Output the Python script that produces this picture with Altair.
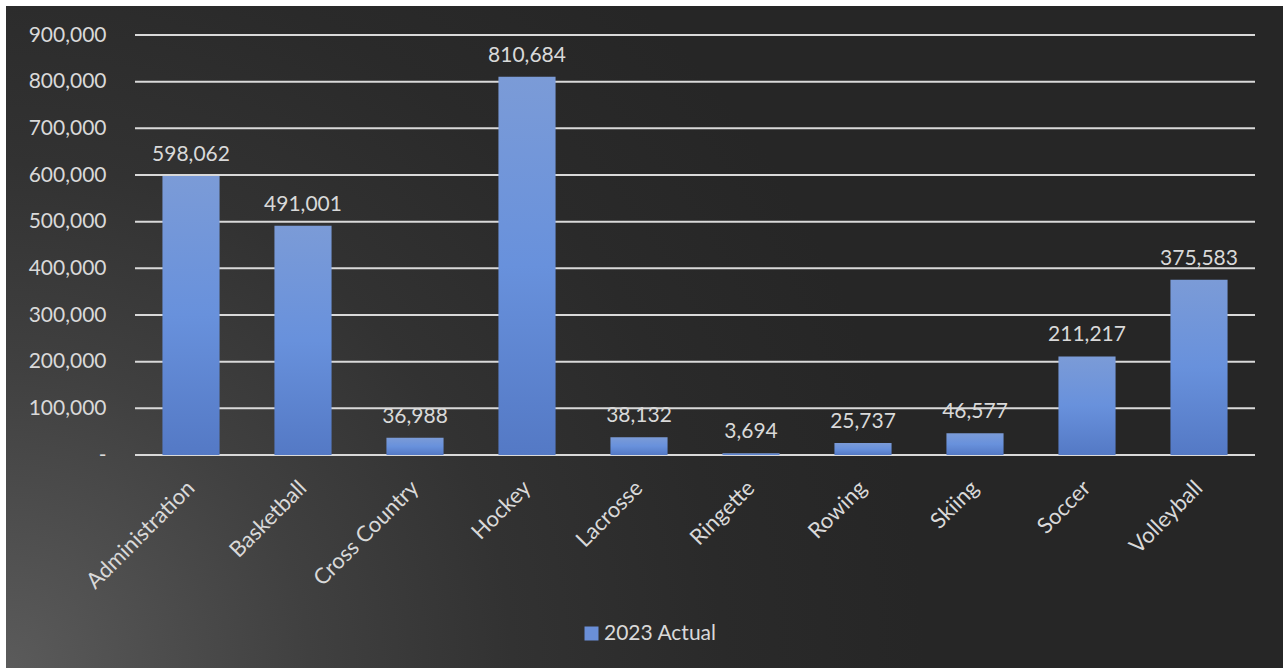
import altair as alt
import pandas as pd

categories = ["Administration", "Basketball", "Cross Country", "Hockey", "Lacrosse",
              "Ringette", "Rowing", "Skiing", "Soccer", "Volleyball"]
values = [598062, 491001, 36988, 810684, 38132, 3694, 25737, 46577, 211217, 375583]
series_name = "2023 Actual"
y_ticks = [0, 100000, 200000, 300000, 400000, 500000, 600000, 700000, 800000, 900000]

W, H = 1120, 420
PAD = {"left": 135, "top": 35, "right": 28, "bottom": 213}
FONT = "Lato"
TXT = "#d9d9d9"

df = pd.DataFrame({"category": categories, "value": values, "series": series_name})
grid_df = pd.DataFrame({"v": y_ticks})
bg_df = pd.DataFrame({"a": [0]})

bg_grad = {
    "gradient": "radial",
    "x1": 0, "y1": 0.76, "r1": 0,
    "x2": 0, "y2": 0.76, "r2": 0.72,
    "stops": [
        {"offset": 0, "color": "#5b5b5b"},
        {"offset": 0.33, "color": "#404040"},
        {"offset": 0.55, "color": "#323232"},
        {"offset": 0.78, "color": "#2a2a2a"},
        {"offset": 1, "color": "#262626"},
    ],
}
bar_grad = {
    "gradient": "linear",
    "x1": 0, "y1": 0, "x2": 0, "y2": 1,
    "stops": [
        {"offset": 0, "color": "#7b9bd7"},
        {"offset": 0.5, "color": "#6891dc"},
        {"offset": 1, "color": "#5479c5"},
    ],
}

yscale = alt.Scale(domain=[0, 900000], nice=False, zero=True)
xscale = alt.Scale(paddingInner=0.49, paddingOuter=0.245)

y_label_expr = "datum.value == 0 ? '-\u2003' : format(datum.value, ',')"
y_axis = alt.Axis(values=y_ticks, labelExpr=y_label_expr, ticks=False,
                  domain=False, grid=False, labelPadding=29, zindex=2,
                  labelFont=FONT, labelFontSize=21, labelColor=TXT)

bg = alt.Chart(bg_df).mark_rect(fill=bg_grad, stroke=None).encode(
    x=alt.value(-129), x2=alt.value(W + PAD["right"]),
    y=alt.value(-29), y2=alt.value(H + PAD["bottom"]),
)

grid = alt.Chart(grid_df).mark_rule(color=TXT, strokeWidth=2).encode(
    y=alt.Y("v:Q", scale=yscale, axis=y_axis, title=None),
)

bars = alt.Chart(df).mark_bar(fill=bar_grad).encode(
    x=alt.X("category:N", sort=categories, scale=xscale, title=None,
            axis=alt.Axis(labelAngle=-45, labelAlign="right", labelBaseline="middle",
                          labelPadding=29, ticks=False, domain=False, grid=False,
                          zindex=2,
                          labelFont=FONT, labelFontSize=22, labelColor=TXT)),
    y=alt.Y("value:Q", scale=yscale, title=None, axis=y_axis),
    color=alt.Color("series:N", scale=alt.Scale(range=["#6a8fd8"]), title=None,
                    legend=alt.Legend(orient="none", legendX=446, legendY=588,
                                      symbolType="square", symbolSize=196,
                                      symbolStrokeWidth=0, symbolOpacity=1,
                                      labelFont=FONT, labelFontSize=21, labelColor=TXT,
                                      labelOffset=2)),
)

labels = alt.Chart(df).mark_text(font=FONT, fontSize=21, color=TXT,
                                 baseline="alphabetic", dy=-15).encode(
    x=alt.X("category:N", sort=categories, scale=xscale),
    y=alt.Y("value:Q", scale=yscale),
    text=alt.Text("value:Q", format=","),
)

chart = alt.layer(bg, grid, bars, labels).properties(
    width=W, height=H,
    padding=PAD,
    autosize=alt.AutoSizeParams(type="none"),
    background="white",
).configure_view(stroke=None)

chart.save("out.html", embed_options={"renderer": "svg", "actions": False})
